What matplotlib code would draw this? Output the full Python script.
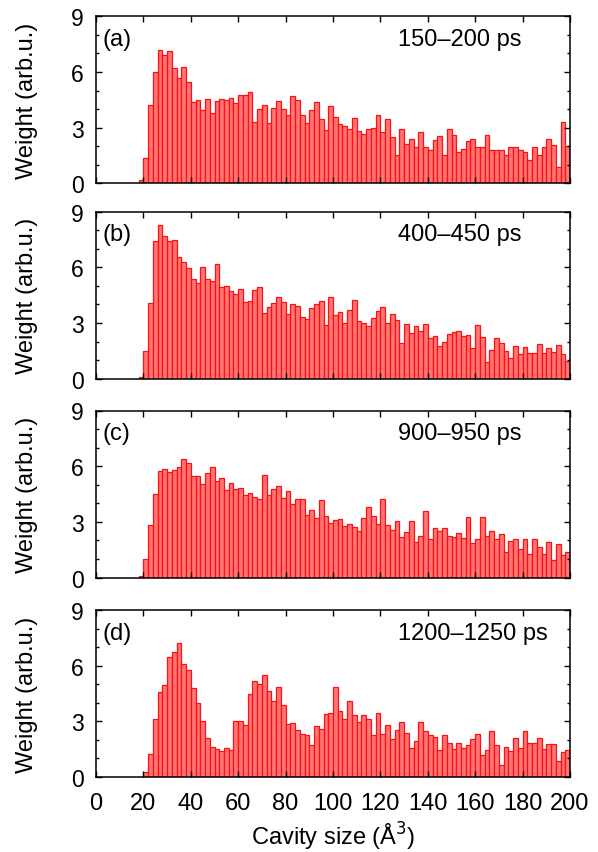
import numpy as np
import matplotlib
matplotlib.use("Agg")
import matplotlib.pyplot as plt
from matplotlib.ticker import MultipleLocator

plt.rcParams['font.family'] = ['Liberation Sans', 'DejaVu Sans']

# histogram bins are 2 A^3 wide; each panel lists the weights from its first non-empty bin
bin_width = 2
panel_tags = ['(a)', '(b)', '(c)', '(d)']
time_windows = ['150\u2013200 ps', '400\u2013450 ps', '900\u2013950 ps', '1200\u20131250 ps']
first_bin = [18, 18, 18, 20]

weights_a = [0.2, 1.37, 4.2, 5.98, 7.19, 6.94, 7.12, 6.2, 5.68, 6.25, 5.44, 4.36, 4.47, 3.95, 4.52,
             3.77, 4.43, 4.52, 4.47, 4.58, 4.32, 4.77, 4.74, 4.9, 3.33, 3.98, 4.22, 3.26, 4.04, 4.43,
             4.0, 3.69, 4.72, 4.47, 3.66, 3.24, 3.93, 4.36, 3.44, 2.86, 4.14, 3.6, 3.2, 3.1, 2.95,
             3.5, 2.8, 2.63, 2.95, 3.0, 3.66, 2.74, 3.46, 2.52, 1.55, 2.9, 2.14, 2.41, 1.96, 2.74,
             1.93, 1.78, 2.34, 2.56, 1.5, 2.9, 2.58, 1.66, 1.87, 2.27, 2.41, 1.95, 1.95, 2.6, 1.8,
             1.82, 1.82, 1.53, 1.98, 1.98, 1.82, 1.71, 1.28, 1.98, 1.55, 1.93, 2.41, 2.09, 0.88,
             3.33, 2.02]

weights_b = [0.1, 1.5, 4.1, 7.42, 8.31, 7.69, 7.4, 7.47, 6.55, 6.29, 5.96, 5.4, 5.16, 6.0, 5.36,
             5.24, 6.18, 4.93, 5.02, 4.75, 4.58, 4.84, 4.13, 4.2, 4.76, 4.93, 3.55, 3.87, 4.09, 4.38,
             4.11, 3.47, 4.05, 3.93, 3.33, 3.24, 3.8, 4.05, 4.18, 2.91, 4.38, 3.45, 3.6, 3.02, 3.69,
             4.24, 3.13, 3.02, 2.85, 3.27, 3.65, 3.85, 2.98, 3.51, 3.18, 1.93, 2.95, 2.47, 2.85, 2.55,
             2.95, 2.2, 2.31, 1.78, 2.0, 2.42, 2.53, 2.58, 2.31, 2.33, 1.67, 2.91, 2.24, 0.89, 1.55,
             2.2, 1.91, 1.49, 1.09, 1.75, 1.33, 1.69, 1.36, 1.36, 1.85, 1.38, 1.65, 1.45, 1.8, 1.33,
             0.98]

weights_c = [0.09, 0.98, 2.85, 4.49, 5.76, 5.85, 5.69, 5.8, 5.95, 6.36, 6.18, 5.49, 5.49, 5.04, 5.64,
             5.96, 5.2, 5.36, 4.73, 5.09, 4.78, 4.84, 4.42, 4.58, 4.35, 4.24, 5.51, 4.44, 4.75, 4.91,
             4.31, 4.65, 3.95, 4.25, 4.25, 3.35, 3.64, 3.2, 4.16, 3.29, 2.96, 3.09, 3.16, 2.8, 2.87,
             2.73, 2.49, 3.2, 3.8, 3.29, 2.89, 4.25, 2.84, 2.58, 3.02, 2.16, 2.45, 3.07, 1.93, 2.22,
             3.56, 2.09, 2.69, 2.53, 2.67, 2.24, 2.16, 2.38, 2.13, 3.24, 1.87, 2.09, 3.25, 2.25, 2.49,
             2.09, 2.35, 1.38, 1.96, 2.09, 1.55, 2.07, 1.24, 2.07, 1.64, 1.27, 1.91, 0.95, 1.82, 1.22,
             1.35]

weights_d = [0.27, 1.25, 3.13, 4.56, 4.97, 6.49, 6.73, 7.22, 6.08, 5.79, 4.77, 3.98, 3.04, 2.12,
             1.63, 1.5, 1.41, 1.54, 1.46, 3.04, 3.04, 2.78, 4.5, 5.19, 4.99, 5.48, 4.65, 4.12, 4.85,
             3.89, 2.88, 2.93, 2.55, 2.33, 2.28, 1.72, 2.77, 2.6, 3.38, 3.45, 4.85, 3.58, 3.15, 4.12,
             3.33, 2.98, 3.36, 3.15, 2.26, 3.47, 2.33, 2.82, 2.03, 2.53, 2.98, 2.37, 1.57, 1.95, 2.98,
             2.5, 2.28, 2.13, 1.45, 2.28, 1.84, 1.5, 1.81, 1.54, 1.75, 2.06, 2.3, 1.21, 1.43, 2.5,
             1.7, 0.65, 1.63, 1.41, 2.08, 1.57, 2.5, 1.81, 1.84, 2.1, 1.52, 1.79, 1.79, 0.85, 1.36,
             1.48]

all_weights = [weights_a, weights_b, weights_c, weights_d]

fig = plt.figure(figsize=(5.98, 8.53), dpi=100)

box_tops = [17.3, 212.7, 411.5, 611.0]
box_h = 167.0
left_px, width_px = 96.0, 474.0
W, H = 598.0, 853.0

for i in range(4):
    top = box_tops[i]
    ax = fig.add_axes([left_px / W, 1 - (top + box_h) / H, width_px / W, box_h / H])
    vals = np.array(all_weights[i])
    edges = np.arange(first_bin[i], 200, bin_width)[:len(vals)]
    ax.bar(edges, vals, width=bin_width, align='edge',
           facecolor='#ff7575', edgecolor='#ff1010', linewidth=0.9)

    ax.set_xlim(0, 200)
    ax.set_ylim(0, 9)
    ax.xaxis.set_major_locator(MultipleLocator(20))
    ax.yaxis.set_major_locator(MultipleLocator(3))
    ax.yaxis.set_minor_locator(MultipleLocator(1))
    ax.tick_params(which='both', direction='in', top=True, right=True, width=1.0)
    ax.tick_params(which='major', length=4)
    ax.tick_params(which='minor', length=2.5)
    ax.tick_params(axis='y', labelsize=16.5, pad=9)
    ax.tick_params(axis='x', labelsize=17, pad=11)
    for sp in ax.spines.values():
        sp.set_linewidth(1.1)

    if i < 3:
        ax.set_xticklabels([])
    else:
        ax.set_xlabel('Cavity size (\u00c5$^3$)', fontsize=17)
        ax.xaxis.set_label_coords(0.5, -0.255)

    ax.set_ylabel('Weight (arb.u.)', fontsize=17)
    ax.yaxis.set_label_coords(-0.122, 0.5)

    ax.text(0.013, 0.865, panel_tags[i], transform=ax.transAxes,
            fontsize=17, va='center', ha='left')
    ax.text(0.637, 0.865, time_windows[i], transform=ax.transAxes,
            fontsize=17, va='center', ha='left')

fig.savefig('out.png', dpi=100)
